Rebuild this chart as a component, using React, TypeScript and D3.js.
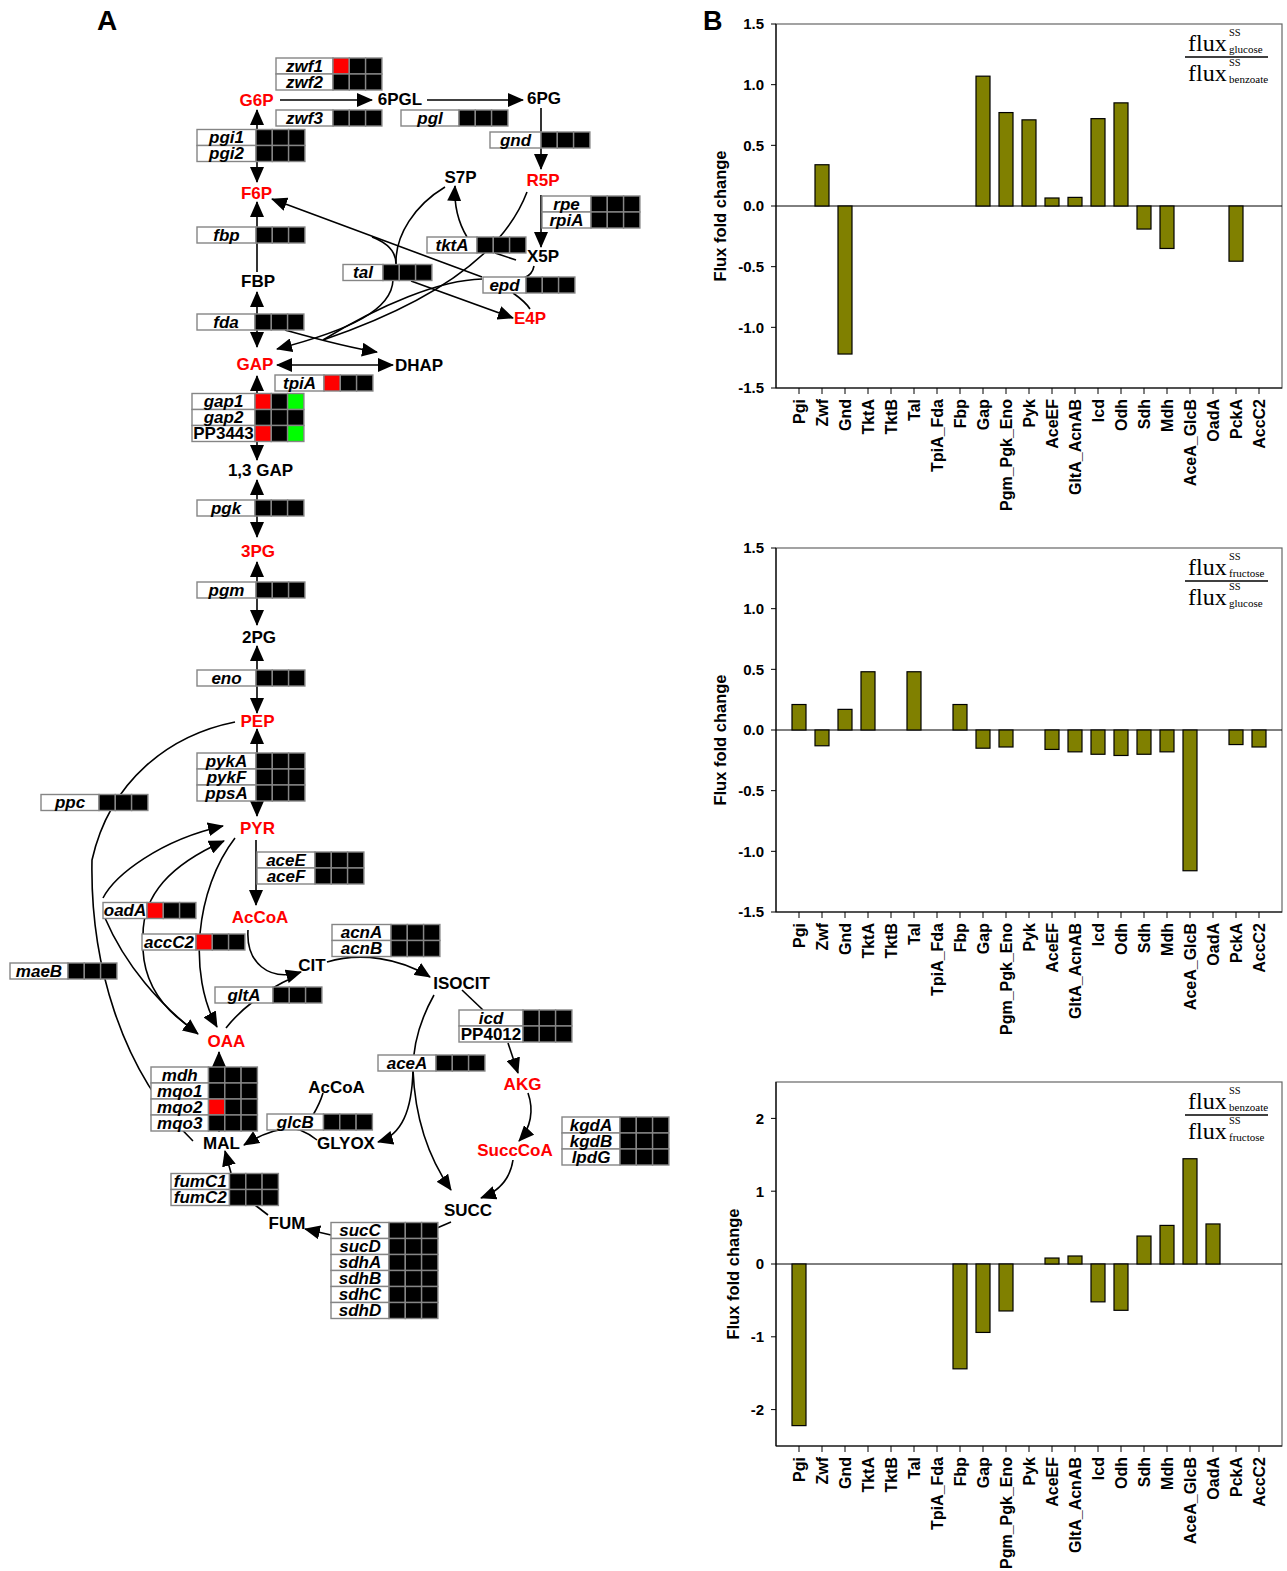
import React from 'react';
import * as d3 from 'd3';

// ---------- panel B data ----------
const categories = ['Pgi', 'Zwf', 'Gnd', 'TktA', 'TktB', 'Tal', 'TpiA_Fda', 'Fbp', 'Gap', 'Pgm_Pgk_Eno', 'Pyk',
  'AceEF', 'GltA_AcnAB', 'Icd', 'Odh', 'Sdh', 'Mdh', 'AceA_GlcB', 'OadA', 'PckA', 'AccC2'];

// glucose / benzoate
const glucoseVsBenzoate = [0, 0.34, -1.22, 0, 0, 0, 0, 0, 1.07, 0.77, 0.71, 0.066, 0.071, 0.72, 0.85, -0.19, -0.35, 0, 0, -0.455, 0];
// fructose / glucose
const fructoseVsGlucose = [0.21, -0.13, 0.17, 0.48, 0, 0.48, 0, 0.21, -0.15, -0.14, 0, -0.16, -0.18, -0.2, -0.21, -0.2, -0.18, -1.16, 0, -0.12, -0.14];
// benzoate / fructose
const benzoateVsFructose = [-2.22, 0, 0, 0, 0, 0, 0, -1.44, -0.94, -0.645, 0, 0.082, 0.11, -0.52, -0.636, 0.384, 0.53, 1.446, 0.55, 0, 0];

const ticksHalf = [-1.5, -1.0, -0.5, 0, 0.5, 1.0, 1.5];
const ticksUnit = [-2, -1, 0, 1, 2];

// ---------- panel A data ----------
// gene rows: name + expression colours (K black, R red, G green)
const geneGroups = [
  { x: 276, y: 58, w: 57, rows: [['zwf1', 'RKK'], ['zwf2', 'KKK']] },
  { x: 276, y: 110, w: 57, rows: [['zwf3', 'KKK']] },
  { x: 401, y: 110, w: 58, rows: [['pgl', 'KKK']] },
  { x: 197, y: 129.5, w: 59, rows: [['pgi1', 'KKK'], ['pgi2', 'KKK']] },
  { x: 490, y: 132, w: 51, rows: [['gnd', 'KKK']] },
  { x: 542, y: 196, w: 49, rows: [['rpe', 'KKK'], ['rpiA', 'KKK']] },
  { x: 197, y: 227, w: 59, rows: [['fbp', 'KKK']] },
  { x: 427, y: 237, w: 50, rows: [['tktA', 'KKK']] },
  { x: 343, y: 264.5, w: 40, rows: [['tal', 'KKK']] },
  { x: 483, y: 277, w: 43, rows: [['epd', 'KKK']] },
  { x: 197, y: 314, w: 58, rows: [['fda', 'KKK']] },
  { x: 275, y: 375, w: 49, rows: [['tpiA', 'RKK']] },
  { x: 192, y: 393.5, w: 63, rows: [['gap1', 'RKG'], ['gap2', 'KKK'], ['PP3443', 'RKG']] },
  { x: 197, y: 500, w: 58, rows: [['pgk', 'KKK']] },
  { x: 197, y: 582, w: 59, rows: [['pgm', 'KKK']] },
  { x: 197, y: 670, w: 59, rows: [['eno', 'KKK']] },
  { x: 197, y: 753, w: 59, rows: [['pykA', 'KKK'], ['pykF', 'KKK'], ['ppsA', 'KKK']] },
  { x: 41, y: 794.5, w: 58, rows: [['ppc', 'KKK']] },
  { x: 257, y: 852, w: 58, rows: [['aceE', 'KKK'], ['aceF', 'KKK']] },
  { x: 103, y: 902.5, w: 44, rows: [['oadA', 'RKK']] },
  { x: 142, y: 934, w: 54, rows: [['accC2', 'RKK']] },
  { x: 332, y: 924.5, w: 59, rows: [['acnA', 'KKK'], ['acnB', 'KKK']] },
  { x: 10, y: 963, w: 58, rows: [['maeB', 'KKK']] },
  { x: 215, y: 987, w: 58, rows: [['gltA', 'KKK']] },
  { x: 459, y: 1010, w: 64, rows: [['icd', 'KKK'], ['PP4012', 'KKK']] },
  { x: 378, y: 1055, w: 58, rows: [['aceA', 'KKK']] },
  { x: 151, y: 1067, w: 57.5, rows: [['mdh', 'KKK'], ['mqo1', 'KKK'], ['mqo2', 'RKK'], ['mqo3', 'KKK']] },
  { x: 267, y: 1114, w: 56.5, rows: [['glcB', 'KKK']] },
  { x: 562, y: 1117, w: 58, rows: [['kgdA', 'KKK'], ['kgdB', 'KKK'], ['lpdG', 'KKK']] },
  { x: 171, y: 1173.5, w: 58.5, rows: [['fumC1', 'KKK'], ['fumC2', 'KKK']] },
  { x: 331, y: 1222.5, w: 58, rows: [['sucC', 'KKK'], ['sucD', 'KKK'], ['sdhA', 'KKK'], ['sdhB', 'KKK'], ['sdhC', 'KKK'], ['sdhD', 'KKK']] },
];

// metabolites: label, centre x, centre y, highlighted (red)
const metabolites: [string, number, number, boolean][] = [
  ['G6P', 256.5, 100, true], ['6PGL', 400, 99, false], ['6PG', 544, 98, false],
  ['F6P', 256.5, 193, true], ['S7P', 460.5, 177, false], ['R5P', 543, 180, true],
  ['X5P', 543, 256, false], ['E4P', 530, 318, true], ['FBP', 258, 281, false],
  ['GAP', 255, 364, true], ['DHAP', 419, 365, false], ['1,3 GAP', 260.5, 470, false],
  ['3PG', 258, 551, true], ['2PG', 259, 637, false], ['PEP', 257.5, 721, true],
  ['PYR', 257.5, 828, true], ['AcCoA', 260, 917, true], ['CIT', 312, 965, false],
  ['ISOCIT', 461.5, 983, false], ['OAA', 226.5, 1041, true], ['AKG', 522.5, 1084, true],
  ['AcCoA', 336.5, 1087, false], ['MAL', 221.5, 1143, false], ['GLYOX', 346, 1143, false],
  ['SuccCoA', 515, 1150, true], ['SUCC', 468, 1210, false], ['FUM', 287, 1223, false],
];

// reaction lines: path, arrow heads ('e' end, 'b' both, '' none)
const reactions: [string, string][] = [
  ['M257,110 L257,182', 'b'],
  ['M257,272 L257,202', 'e'],
  ['M257,292 L257,347', 'b'],
  ['M257,376 L257,460', 'b'],
  ['M257,480 L257,537', 'b'],
  ['M257,562 L257,625', 'b'],
  ['M257,646 L257,713', 'b'],
  ['M257,729 L257,816', 'b'],
  ['M256,840 L256,905', 'e'],
  ['M280,100 L372,100', 'e'],
  ['M427,100 L523,100', 'e'],
  ['M541,108 L541,169', 'e'],
  ['M541,195 L541,247', 'e'],
  ['M482,277 L272,199', 'e'],
  ['M372,237 C388,243 396,252 396,264', ''],
  ['M445,187 C415,205 395,235 396,264', ''],
  ['M467,237 C458,222 454,205 455,186', 'e'],
  ['M495,253 L516,260', ''],
  ['M534,266 C533,272 529,276 524,278', ''],
  ['M411,281 L513,318', 'e'],
  ['M513,293 C520,298 527,304 530,309', ''],
  ['M393,280 C392,310 350,330 277,349', 'e'],
  ['M527,192 C505,250 440,300 323,340', ''],
  ['M482,279 C440,280 380,305 323,340', ''],
  ['M277,365 L393,365', 'b'],
  ['M285,330 C310,337 345,347 377,352', 'e'],
  ['M235,722 C170,735 110,780 92,860 C90,960 120,1070 193,1141', ''],
  ['M103,898 C115,875 160,840 223,826', 'e'],
  ['M105,918 C125,965 160,1005 198,1034', 'e'],
  ['M143,935 C143,895 170,865 224,841', 'e'],
  ['M143,950 C145,990 170,1015 196,1031', ''],
  ['M235,838 C195,890 188,975 217,1027', 'e'],
  ['M219,1132 L219,1052', 'e'],
  ['M248,930 C246,962 268,982 301,972', 'e'],
  ['M226,1028 C240,1010 265,990 292,978', ''],
  ['M327,962 C360,952 400,958 430,977', 'e'],
  ['M434,995 C420,1020 413,1045 413,1070 C412,1110 402,1135 378,1142', 'e'],
  ['M413,1070 C415,1120 430,1160 451,1190', 'e'],
  ['M462,990 L483,1010', ''],
  ['M508,1043 L518,1073', 'e'],
  ['M528,1093 C534,1110 531,1128 519,1141', 'e'],
  ['M513,1160 C510,1180 497,1192 481,1198', 'e'],
  ['M451,1222 L437,1228', ''],
  ['M331,1235 L305,1229', 'e'],
  ['M268,1215 L255,1205', ''],
  ['M231,1173 L225,1151', 'e'],
  ['M300,1130 C285,1126 265,1132 244,1145', 'e'],
  ['M300,1130 C305,1132 312,1136 317,1140', ''],
  ['M323,1093 C320,1103 316,1110 313,1115', ''],
];

const SANS = 'Liberation Sans, Arial, Helvetica, sans-serif';
const SERIF = 'Liberation Serif, Times New Roman, serif';
const colorOf: Record<string, string> = { K: '#000000', R: '#ff0000', G: '#00ff00' };

const ROW_H = 16;
const SQ_W = 16.3;

// cells first, then names on top so descenders are not covered by the next row
function GeneBox({ g }: any) {
  return (
    <g>
      {g.rows.map((r: string[], i: number) => {
        const y = g.y + i * ROW_H;
        return (
          <g key={i}>
            <rect x={g.x} y={y} width={g.w} height={ROW_H} fill="#fff" stroke="#858585" strokeWidth={1.4} />
            {r[1].split('').map((c, j) => (
              <rect key={j} x={g.x + g.w + j * SQ_W} y={y} width={SQ_W} height={ROW_H}
                fill={colorOf[c]} stroke="#858585" strokeWidth={1.4} />
            ))}
          </g>
        );
      })}
      {g.rows.map((r: string[], i: number) => {
        const y = g.y + i * ROW_H;
        const italic = !/^PP/.test(r[0]);
        return (
          <text key={'t' + i} x={g.x + g.w / 2} y={y + ROW_H / 2} dy="0.33em" textAnchor="middle"
            fontFamily={SANS} fontWeight="bold" fontStyle={italic ? 'italic' : 'normal'} fontSize={17}>{r[0]}</text>
        );
      })}
    </g>
  );
}

function Pathway() {
  return (
    <g>
      <text x={97} y={30} fontFamily={SANS} fontWeight="bold" fontSize={28}>A</text>
      {reactions.map(([d, m], i) => (
        <path key={i} d={d} fill="none" stroke="#000" strokeWidth={1.6}
          markerEnd={m ? 'url(#ah)' : undefined} markerStart={m === 'b' ? 'url(#ah)' : undefined} />
      ))}
      {geneGroups.map((g, i) => <GeneBox key={i} g={g} />)}
      {metabolites.map(([t, x, y, red], i) => (
        <text key={i} x={x} y={y} dy="0.36em" textAnchor="middle" fontFamily={SANS} fontWeight="bold"
          fontSize={17} fill={red ? '#ff0000' : '#000'}>{t}</text>
      ))}
    </g>
  );
}

function Legend({ top, num, den }: any) {
  const fx = 1188, sx = 1229;
  return (
    <g fontFamily={SERIF} fill="#000">
      <text x={fx} y={top + 27} fontSize={24}>flux</text>
      <text x={sx} y={top + 12} fontSize={10.5}>SS</text>
      <text x={sx} y={top + 29} fontSize={11}>{num}</text>
      <line x1={1185} x2={1268} y1={top + 33} y2={top + 33} stroke="#000" strokeWidth={1.3} />
      <text x={fx} y={top + 57} fontSize={24}>flux</text>
      <text x={sx} y={top + 42} fontSize={10.5}>SS</text>
      <text x={sx} y={top + 59} fontSize={11}>{den}</text>
    </g>
  );
}

function BarPanel({ top, values, domain, ticks, fmt, num, den, labelX }: any) {
  const left = 776, right = 1282, h = 364;
  const bottom = top + h;
  const x = d3.scalePoint<string>().domain(categories).range([left, right]).padding(1);
  const y = d3.scaleLinear().domain(domain).range([bottom, top]);
  const bw = 14;
  return (
    <g>
      <rect x={left} y={top} width={right - left} height={h} fill="none" stroke="#666" strokeWidth={1.2} />
      <line x1={left} x2={right} y1={y(0)} y2={y(0)} stroke="#000" strokeWidth={1} />
      {values.map((v: number, i: number) => v === 0 ? null : (
        <rect key={i} x={(x(categories[i]) as number) - bw / 2} y={y(Math.max(0, v))} width={bw}
          height={Math.abs(y(v) - y(0))} fill="#808000" stroke="#000" strokeWidth={1.2} />
      ))}
      <line x1={left} x2={left} y1={top} y2={bottom} stroke="#000" strokeWidth={1.2} />
      <line x1={left} x2={right} y1={bottom} y2={bottom} stroke="#000" strokeWidth={1.2} />
      {ticks.map((t: number) => (
        <g key={t}>
          <line x1={left - 5} x2={left} y1={y(t)} y2={y(t)} stroke="#000" />
          <text x={left - 12} y={y(t)} dy="0.36em" textAnchor="end" fontFamily={SANS} fontWeight="bold" fontSize={15}>{fmt(t)}</text>
        </g>
      ))}
      {categories.map((c) => (
        <g key={c}>
          <line x1={x(c)} x2={x(c)} y1={bottom} y2={bottom + 6} stroke="#000" />
          <text transform={`translate(${(x(c) as number) + 6},${bottom + 11}) rotate(-90)`} textAnchor="end"
            fontFamily={SANS} fontWeight="bold" fontSize={16}>{c}</text>
        </g>
      ))}
      <text transform={`translate(${labelX},${(top + bottom) / 2 + 10}) rotate(-90)`} dy="0.36em" textAnchor="middle"
        fontFamily={SANS} fontWeight="bold" fontSize={16.5}>Flux fold change</text>
      <Legend top={top} num={num} den={den} />
    </g>
  );
}

const fmtHalf = (t: number) => t.toFixed(1);
const fmtUnit = (t: number) => String(t);

export default function App() {
  return (
    <svg width={1287} height={1571} style={{ position: 'absolute', left: 0, top: 0, background: '#fff' }}>
      <defs>
        <marker id="ah" viewBox="0 0 16 14" refX={15} refY={7} markerWidth={16} markerHeight={14}
          markerUnits="userSpaceOnUse" orient="auto-start-reverse">
          <path d="M0,0 L16,7 L0,14 Z" fill="#000" />
        </marker>
      </defs>
      <Pathway />
      <text x={703} y={30} fontFamily={SANS} fontWeight="bold" fontSize={27}>B</text>
      <BarPanel top={24} values={glucoseVsBenzoate} domain={[-1.5, 1.5]} ticks={ticksHalf} fmt={fmtHalf}
        num="glucose" den="benzoate" labelX={720} />
      <BarPanel top={548} values={fructoseVsGlucose} domain={[-1.5, 1.5]} ticks={ticksHalf} fmt={fmtHalf}
        num="fructose" den="glucose" labelX={720} />
      <BarPanel top={1082} values={benzoateVsFructose} domain={[-2.5, 2.5]} ticks={ticksUnit} fmt={fmtUnit}
        num="benzoate" den="fructose" labelX={733} />
    </svg>
  );
}
